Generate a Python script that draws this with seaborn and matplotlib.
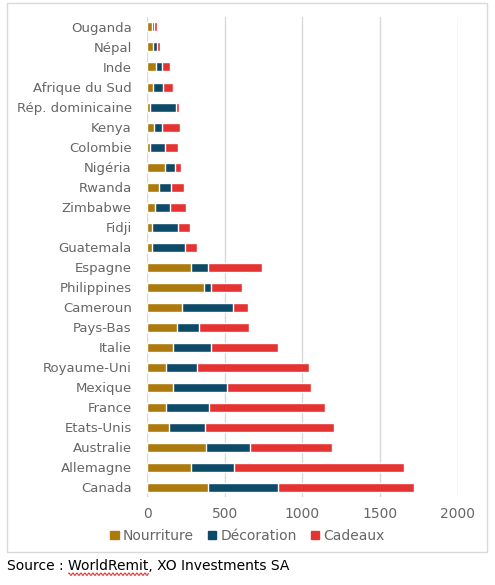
import numpy as np
import pandas as pd
import matplotlib
matplotlib.use("Agg")
import matplotlib.pyplot as plt
import matplotlib.patches as mpatches
import seaborn as sns

sns.set_style("white")
plt.rcParams['font.family'] = ['DejaVu Sans']

# data
countries = ["Ouganda", "Népal", "Inde", "Afrique du Sud", "Rép. dominicaine", "Kenya",
             "Colombie", "Nigéria", "Rwanda", "Zimbabwe", "Fidji", "Guatemala",
             "Espagne", "Philippines", "Cameroun", "Pays-Bas", "Italie", "Royaume-Uni",
             "Mexique", "France", "Etats-Unis", "Australie", "Allemagne", "Canada"]
nourriture = [34, 41, 58, 41, 21, 45, 17, 114, 75, 54, 34, 32,
              285, 367, 223, 195, 170, 124, 170, 124, 144, 382, 281, 395]
decoration = [9, 21, 36, 60, 164, 49, 99, 64, 82, 92, 163, 210,
              107, 43, 331, 140, 240, 196, 345, 273, 227, 281, 279, 446]
cadeaux = [19, 22, 52, 64, 23, 121, 81, 39, 81, 107, 80, 80,
           350, 204, 96, 322, 431, 723, 541, 747, 835, 526, 1095, 878]
series = ["Nourriture", "Décoration", "Cadeaux"]
colors = ["#AD7A0E", "#0C4A68", "#E53331"]

df = pd.DataFrame({"pays": countries, "Nourriture": nourriture,
                   "Décoration": decoration, "Cadeaux": cadeaux})
df["c1"] = df["Nourriture"]
df["c2"] = df["c1"] + df["Décoration"]
df["c3"] = df["c2"] + df["Cadeaux"]

fig = plt.figure(figsize=(4.95, 5.85), dpi=100)
ax = fig.add_axes([0.297, 0.150, 0.628, 0.821])

# stacked bars: draw cumulative totals back to front
for col, color in zip(["c3", "c2", "c1"], colors[::-1]):
    sns.barplot(data=df, x=col, y="pays", order=countries, color=color,
                width=0.45, saturation=1, ax=ax, orient="h")

ax.set_xlim(0, 2000)
ax.set_xticks([0, 500, 1000, 1500, 2000])
ax.set_xlabel("")
ax.set_ylabel("")
ax.grid(axis="x", color="#D9D9D9", linewidth=1)
ax.set_axisbelow(True)
for s in ax.spines.values():
    s.set_visible(False)
ax.tick_params(axis="both", length=0, labelcolor="#666666")
ax.tick_params(axis="x", pad=7, labelsize=10)
ax.tick_params(axis="y", pad=11, labelsize=9.5)

handles = [mpatches.Patch(color=c, label=s) for s, c in zip(series, colors)]
leg = fig.legend(handles=handles, loc="center", bbox_to_anchor=(0.5, 0.084), ncol=3,
                 frameon=False, fontsize=10, handlelength=0.6, handleheight=0.6,
                 handletextpad=0.3, columnspacing=1.0)
for t in leg.get_texts():
    t.set_color("#666666")

# chart border
fig.patches.append(mpatches.Rectangle((0.015, 0.057), 0.968, 0.938, transform=fig.transFigure,
                                      fill=False, edgecolor="#D9D9D9", linewidth=1))

src = fig.text(0.015, 0.033, "Source : WorldRemit, XO Investments SA", fontsize=10,
               color="black", va="center", ha="left")

# spell-check squiggle under "WorldRemit"
r = fig.canvas.get_renderer()
only = fig.text(0.015, 0.033, "WorldRemit", fontsize=10, va="center", alpha=0)
upto = fig.text(0.015, 0.033, "Source : WorldRemit", fontsize=10, va="center", alpha=0)
x1 = upto.get_window_extent(r).x1
x0 = x1 - only.get_window_extent(r).width
yb = src.get_window_extent(r).y0 - 1.5
xs = np.arange(x0, x1, 1.0)
ys = yb + 1.0 * np.where(np.arange(len(xs)) % 4 < 2, 1, -1)
fig.add_artist(plt.Line2D(xs / fig.bbox.width, ys / fig.bbox.height, color="#E03030",
                          linewidth=0.8, transform=fig.transFigure))

fig.savefig("out.png", dpi=100)
